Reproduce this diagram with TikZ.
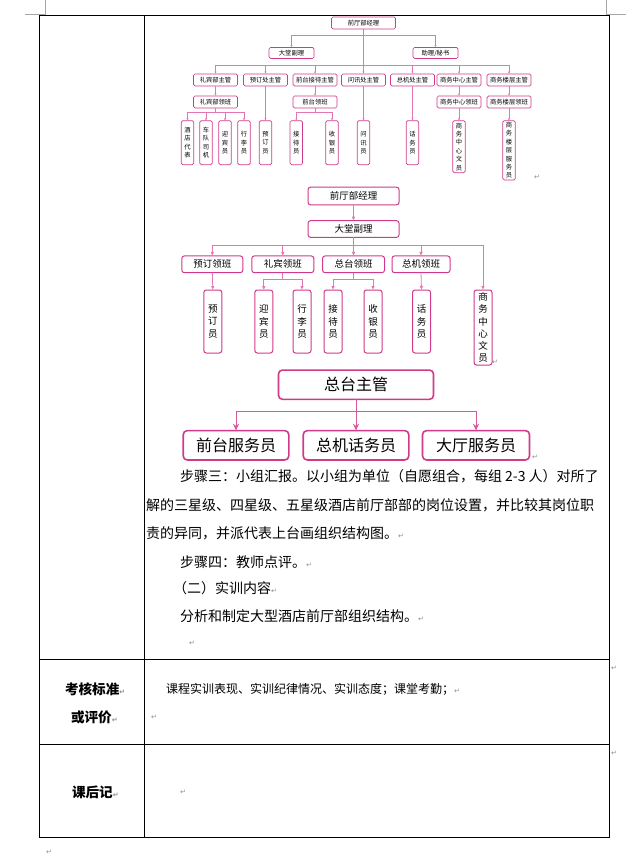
\documentclass[tikz,border=0pt]{standalone}
\usepackage{fontspec}
\setmainfont{Noto Sans CJK SC}
\newfontfamily\markfont{DejaVu Sans}
\usetikzlibrary{arrows.meta}
\definecolor{boxpink}{RGB}{208,58,138}
\definecolor{linepink}{RGB}{228,118,178}
\definecolor{markgray}{RGB}{140,140,140}
\newcommand{\fsz}[1]{\fontsize{#1}{#1}\selectfont}
\newcommand{\pmark}{{\markfont\fsz{7}\color{markgray}↵}}

\begin{document}
\begin{tikzpicture}[
  x=1pt, y=-1pt,
  every node/.style={inner sep=0pt, outer sep=0pt},
  % small chart
  sbox/.style={draw=boxpink, line width=0.7pt, rounded corners=1.5pt, fill=white,
    font=\fsz{6.3}, minimum width=44pt, minimum height=12pt},
  scol/.style={sbox, anchor=north, align=center, minimum width=12.5pt,
    minimum height=44pt, font=\fontsize{6.3}{8.4}\selectfont},
  sline/.style={draw=linepink, line width=0.6pt},
  sarr/.style={sline, -{Latex[length=2.4pt,width=2.2pt]}},
  % middle chart
  mbox/.style={draw=boxpink, line width=1pt, rounded corners=2.5pt, fill=white,
    font=\fsz{9.5}, minimum height=16.7pt},
  mcol/.style={mbox, anchor=north, align=center, minimum width=18pt,
    minimum height=63pt, font=\fontsize{9.5}{12.2}\selectfont},
  mline/.style={draw=linepink, line width=0.8pt},
  marr/.style={mline, -{Latex[length=4pt,width=3.6pt]}},
  % big chart
  bbox/.style={draw=boxpink, line width=1.6pt, rounded corners=4pt, fill=white,
    font=\fsz{16}, minimum height=29.3pt},
  bline/.style={draw=boxpink!85, line width=1pt},
  barr/.style={bline, -{Stealth[length=7pt,width=6pt]}},
  % page
  body/.style={anchor=west, font=\fsz{14}},
  cell/.style={anchor=west, font=\fsz{12}},
  lab/.style={anchor=west, font=\fsz{13.6}\bfseries},
  pm/.style={font=\markfont\fsz{7}, text=markgray},
  rule/.style={draw=black, line width=0.8pt},
  crop/.style={draw=black!35, line width=0.6pt},
]
\useasboundingbox (0,0) rectangle (637,866);

% table
\draw[rule] (39.5,15) rectangle (609,837);
\draw[rule] (144,15) -- (144,837);
\draw[rule] (39.5,659.5) -- (609,659.5);
\draw[rule] (39.5,744) -- (609,744);
\draw[crop] (25,14.5) -- (45,14.5) -- (45,0);
\draw[crop] (606,0) -- (606,14.5) -- (626,14.5);

% chart 1
\node[sbox, minimum width=64pt] (gm1) at (363.5,23) {前厅部经理};
\node[sbox, minimum width=45pt, minimum height=11pt] (dt1) at (291.5,53) {大堂副理};
\node[sbox, minimum width=45pt, minimum height=11pt] (zl1) at (435.5,53) {助理/秘书};
\node[sbox] (lb1z) at (215.5,80) {礼宾部主管};
\node[sbox] (yd1z) at (265.5,80) {预订处主管};
\node[sbox] (qt1z) at (315,80) {前台接待主管};
\node[sbox] (wx1z) at (363.5,80) {问讯处主管};
\node[sbox] (zj1z) at (412.5,80) {总机处主管};
\node[sbox] (sw1z) at (459,80) {商务中心主管};
\node[sbox] (sl1z) at (509,80) {商务楼层主管};
\node[sbox] (lb1l) at (215.5,102) {礼宾部领班};
\node[sbox] (qt1l) at (315,102) {前台领班};
\node[sbox] (sw1l) at (459,102) {商务中心领班};
\node[sbox] (sl1l) at (509,102) {商务楼层领班};
\node[scol] (jd1) at (187.5,120.7) {酒\\店\\代\\表};
\node[scol] (cd1) at (206,120.7) {车\\队\\司\\机};
\node[scol] (yb1) at (225,120.7) {迎\\宾\\员};
\node[scol] (xl1) at (244,120.7) {行\\李\\员};
\node[scol] (yd1) at (265.5,120.7) {预\\订\\员};
\node[scol] (jc1) at (296.3,120.7) {接\\待\\员};
\node[scol] (sy1) at (332,120.7) {收\\银\\员};
\node[scol] (wx1) at (363.5,120.7) {问\\讯\\员};
\node[scol] (hw1) at (412.5,120.7) {话\\务\\员};
\node[scol, minimum height=52pt] (swy1) at (459,120.7) {商\\务\\中\\心\\文\\员};
\node[scol, minimum height=59.3pt] (slf1) at (509,120.7) {商\\务\\楼\\层\\服\\务\\员};

\coordinate (b1) at (363.5,35.7);
\coordinate (b2) at (363.5,65.7);
\coordinate (b3) at (215.5,112.7);
\coordinate (b4) at (315,112.7);
\draw[sarr] (gm1.south) -- (wx1z.north);
\draw[sarr] (b1) -| (dt1.north);
\draw[sarr] (b1) -| (zl1.north);
\foreach \n in {lb1z,yd1z,qt1z,zj1z,sw1z,sl1z}
  \draw[sarr] (b2) -| (\n.north);
\draw[sarr] (lb1z.south) -- (lb1l.north);
\draw[sarr] (qt1z.south) -- (qt1l.north);
\draw[sarr] (sw1z.south) -- (sw1l.north);
\draw[sarr] (sl1z.south) -- (sl1l.north);
\draw[sarr] (yd1z.south) -- (yd1.north);
\draw[sarr] (wx1z.south) -- (wx1.north);
\draw[sarr] (zj1z.south) -- (hw1.north);
\draw[sarr] (sw1l.south) -- (swy1.north);
\draw[sarr] (sl1l.south) -- (slf1.north);
\draw[sline] (lb1l.south) -- (b3);
\foreach \n in {jd1,cd1,yb1,xl1}
  \draw[sarr] (b3) -| (\n.north);
\draw[sline] (qt1l.south) -- (b4);
\foreach \n in {jc1,sy1}
  \draw[sarr] (b4) -| (\n.north);

% chart 2
\node[mbox, minimum width=91pt, minimum height=17.7pt] (gm2) at (353.5,196) {前厅部经理};
\node[mbox, minimum width=91pt] (dt2) at (353.5,229) {大堂副理};
\node[mbox, minimum width=61pt] (yd2l) at (212.3,264.3) {预订领班};
\node[mbox, minimum width=62pt] (lb2l) at (282.8,264.3) {礼宾领班};
\node[mbox, minimum width=62pt] (zt2l) at (353.5,264.3) {总台领班};
\node[mbox, minimum width=58pt] (zj2l) at (421,264.3) {总机领班};
\node[mcol] (yd2) at (212.8,290) {预\\订\\员};
\node[mcol] (yb2) at (263.8,290) {迎\\宾\\员};
\node[mcol] (xl2) at (302,290) {行\\李\\员};
\node[mcol] (jd2) at (333,290) {接\\待\\员};
\node[mcol] (sy2) at (373,290) {收\\银\\员};
\node[mcol] (hw2) at (421.5,290) {话\\务\\员};
\node[mcol, minimum height=75pt] (sw2) at (483,290) {商\\务\\中\\心\\文\\员};

\coordinate (b5) at (353.5,245);
\coordinate (b6) at (282.8,279.3);
\coordinate (b7) at (353.5,279.3);
\draw[marr] (gm2.south) -- (dt2.north);
\draw[mline] (dt2.south) -- (b5);
\foreach \n in {yd2l,lb2l,zj2l,sw2}
  \draw[marr] (b5) -| (\n.north);
\draw[marr] (b5) -- (zt2l.north);
\draw[marr] (yd2l.south) -- (yd2.north);
\draw[marr] (zj2l.south) -- (hw2.north);
\draw[mline] (lb2l.south) -- (b6);
\foreach \n in {yb2,xl2}
  \draw[marr] (b6) -| (\n.north);
\draw[mline] (zt2l.south) -- (b7);
\foreach \n in {jd2,sy2}
  \draw[marr] (b7) -| (\n.north);

% chart 3
\node[bbox, minimum width=155pt] (zg3) at (356,384.7) {总台主管};
\node[bbox, minimum width=105.6pt] (qf3) at (236,445.3) {前台服务员};
\node[bbox, minimum width=105.6pt] (zh3) at (356,445.3) {总机话务员};
\node[bbox, minimum width=107pt] (dt3) at (476,445.3) {大厅服务员};
\coordinate (b8) at (356,411.7);
\draw[bline] (zg3.south) -- (b8);
\foreach \n in {qf3,zh3,dt3}
  \draw[barr] (b8) -| (\n.north);

% paragraph marks by the charts
\node[pm] (r1) at (537,177) {↵};
\node[pm] (r2) at (495,362) {↵};
\node[pm] (r3) at (535,457) {↵};

% text of the upper cell
\node[body] (t1) at (180,476) {步骤三：小组汇报。以小组为单位（自愿组合，每组 2-3 人）对所了};
\node[body] (t2) at (146,505) {解的三星级、四星级、五星级酒店前厅部部的岗位设置，并比较其岗位职};
\node[body] (t3) at (146,533) {责的异同，并派代表上台画组织结构图。\pmark};
\node[body] (t4) at (180,562) {步骤四：教师点评。\pmark};
\node[body] (t5) at (173,588) {（二）实训内容\pmark};
\node[body] (t6) at (180,616) {分析和制定大型酒店前厅部组织结构。\pmark};
\node[pm] (r4) at (192,643) {↵};

% lower rows
\node[lab] (k1) at (65,689) {考核标准\pmark};
\node[lab] (k2) at (71,717) {或评价\pmark};
\node[cell] (k3) at (166,689) {课程实训表现、实训纪律情况、实训态度；课堂考勤；\pmark};
\node[pm] (r5) at (154,717) {↵};
\node[lab] (h1) at (72,792) {课后记\pmark};
\node[pm] (r6) at (183,792) {↵};
\node[pm] (r7) at (614,668) {↵};
\node[pm] (r8) at (614,753) {↵};
\node[pm] (r9) at (49,852) {↵};
\end{tikzpicture}
\end{document}
